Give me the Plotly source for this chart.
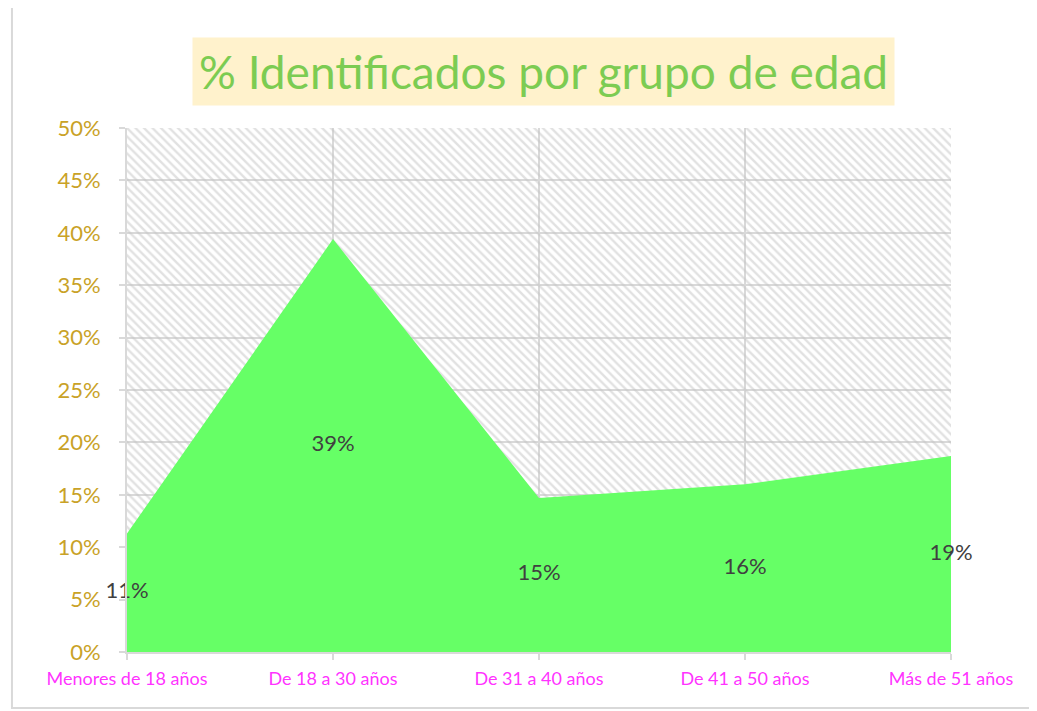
import plotly.graph_objects as go

categories = ["Menores de 18 años", "De 18 a 30 años", "De 31 a 40 años", "De 41 a 50 años", "Más de 51 años"]
values = [0.113, 0.394, 0.147, 0.160, 0.187]
labels = ["11%", "39%", "15%", "16%", "19%"]
y_max = 0.5

xs = list(range(len(categories)))

fig = go.Figure()

# hatched plot-area background
fig.add_trace(go.Scatter(
    x=[xs[0], xs[-1]], y=[y_max, y_max], mode="lines", fill="tozeroy",
    line=dict(width=0, color="rgba(0,0,0,0)"),
    fillcolor="rgba(0,0,0,0)",
    fillpattern=dict(shape="\\", fgcolor="#c4c4c4", bgcolor="rgba(0,0,0,0)",
                     size=6, solidity=0.4, fillmode="overlay"),
    hoverinfo="skip", showlegend=False,
))

# area series
fig.add_trace(go.Scatter(
    x=xs, y=values, mode="lines", fill="tozeroy",
    line=dict(width=0, color="#66ff66"), fillcolor="#66ff66",
    showlegend=False,
))

# data labels at half height
fig.add_trace(go.Scatter(
    x=xs, y=[v / 2 for v in values], mode="text", text=labels,
    textfont=dict(family="Lato, Carlito, sans-serif", size=22, color="#404040"),
    textposition="middle center", showlegend=False, hoverinfo="skip",
    cliponaxis=False,
))

fig.update_layout(
    width=1037, height=711,
    margin=dict(l=119, r=94, t=120, b=67),
    paper_bgcolor="white", plot_bgcolor="white",
    font=dict(family="Lato, Carlito, sans-serif"),
    xaxis=dict(
        range=[xs[0], xs[-1]], tickvals=xs, ticktext=categories,
        showgrid=True, gridcolor="#d9d9d9", gridwidth=2,
        showline=True, linecolor="#d9d9d9", linewidth=2,
        ticks="outside", ticklen=6, tickcolor="#d9d9d9", tickwidth=2,
        tickfont=dict(size=18, color="#ff33ff"), zeroline=False,
        ticklabelstandoff=3,
    ),
    yaxis=dict(
        range=[0, y_max], dtick=0.05, tickformat=".0%",
        showgrid=True, gridcolor="#d9d9d9", gridwidth=2,
        showline=True, linecolor="#d9d9d9", linewidth=2,
        ticks="outside", ticklen=6, tickcolor="#d9d9d9", tickwidth=2,
        tickfont=dict(size=22, color="#c9a227"), zeroline=False,
        ticklabelstandoff=14,
    ),
    shapes=[dict(type="rect", xref="paper", yref="paper",
                 x0=-0.1396, x1=1.0959, y0=-0.1069, y1=1.2309,
                 line=dict(color="#d9d9d9", width=2), layer="below")],
    annotations=[dict(
        text="% Identificados por grupo de edad", xref="paper", yref="paper",
        x=0.506, y=1.107, xanchor="center", yanchor="middle", showarrow=False,
        font=dict(family="Lato, Carlito, sans-serif", size=46, color="#7ccc52"),
        bgcolor="#fff2cc", borderpad=6,
    )],
)

fig.write_html("out.html")
